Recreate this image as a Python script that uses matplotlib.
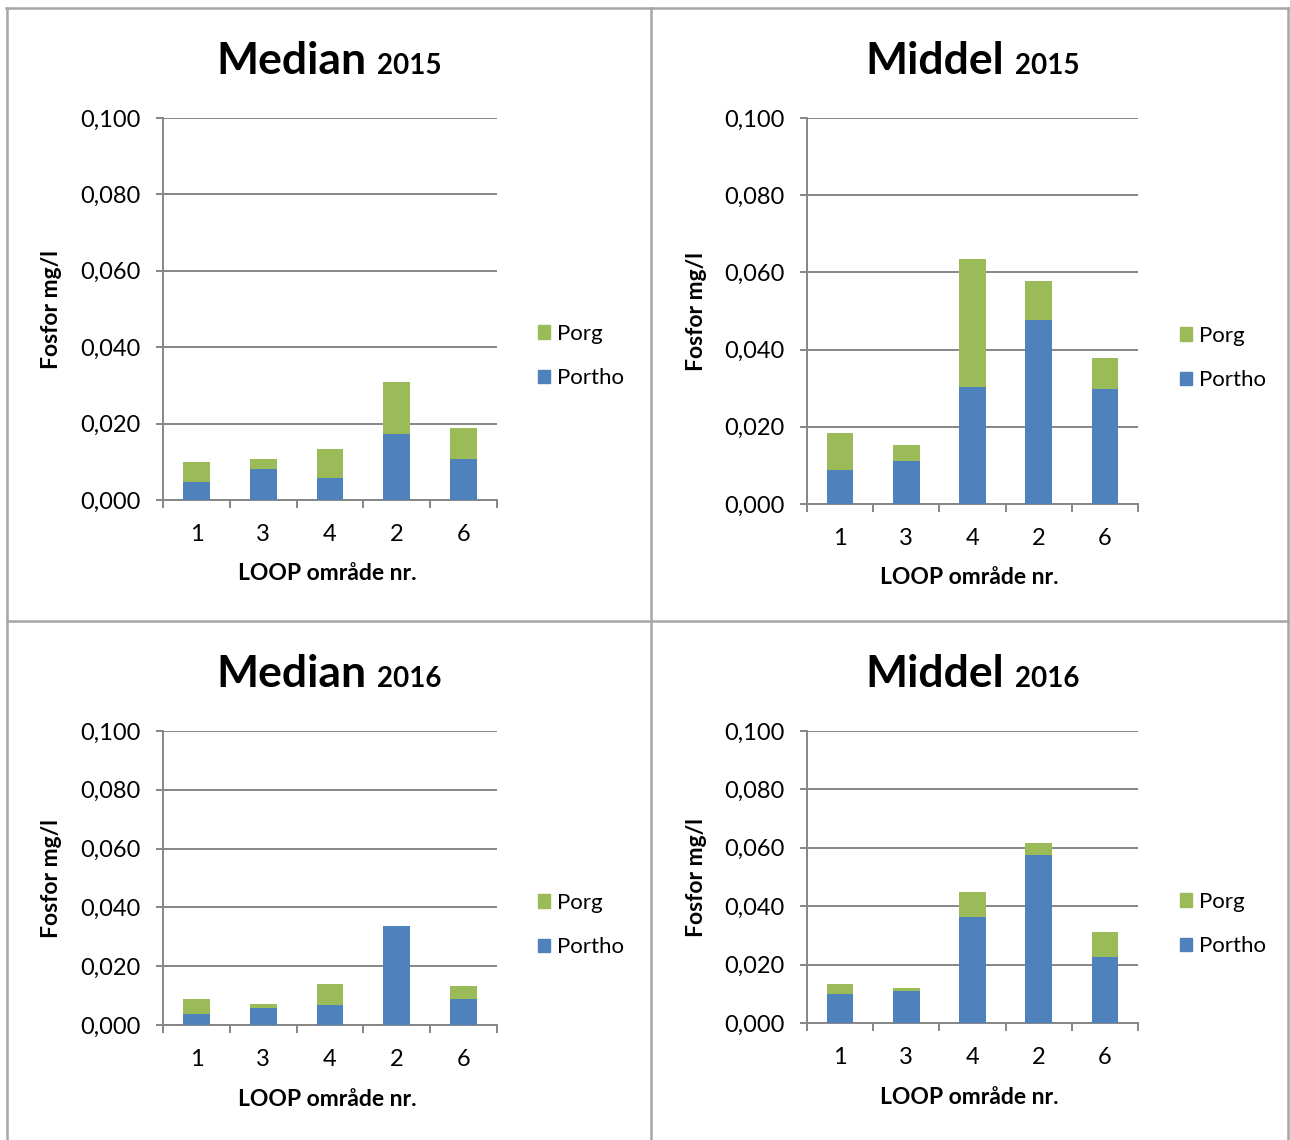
import numpy as np
import matplotlib
matplotlib.use('Agg')
import matplotlib.pyplot as plt
from matplotlib.patches import Patch
from matplotlib.ticker import FuncFormatter, FixedLocator

plt.rcParams['font.family'] = ['Lato', 'DejaVu Sans']

# data (mg/l), areas in the order shown on the x axis
areas = ['1', '3', '4', '2', '6']

median_2015_portho = [0.0048, 0.0081, 0.0058, 0.0174, 0.0108]
median_2015_porg = [0.0051, 0.0027, 0.0075, 0.0135, 0.0080]

middel_2015_portho = [0.0087, 0.0111, 0.0302, 0.0476, 0.0297]
middel_2015_porg = [0.0097, 0.0043, 0.0332, 0.0102, 0.0080]

median_2016_portho = [0.0039, 0.0057, 0.0069, 0.0336, 0.0088]
median_2016_porg = [0.0048, 0.0013, 0.0069, 0.0000, 0.0046]

middel_2016_portho = [0.0099, 0.0109, 0.0364, 0.0574, 0.0225]
middel_2016_porg = [0.0034, 0.0011, 0.0083, 0.0041, 0.0086]

BLUE = '#4F81BD'
GREEN = '#9BBB59'
GRID = '#868686'
FRAME = '#A6A6A6'

W, H = 1290, 1140
fig = plt.figure(figsize=(W / 100, H / 100), dpi=100)


def fx(x):
    return x / W


def fy(y):
    return 1 - y / H


# panel frame lines
for (x0, y0, x1, y1) in [(6, 8, 1290, 8), (7, 8, 7, 1140), (651, 8, 651, 1140),
                         (7, 621, 1290, 621), (1288, 8, 1288, 1140)]:
    fig.add_artist(plt.Line2D([fx(x0), fx(x1)], [fy(y0), fy(y1)],
                              color=FRAME, lw=1.8, transform=fig.transFigure))

# name, year, axes box px (left, top, right, bottom), title split x, legend anchor px, data
panels = [
    ('Median', '2015', (163, 118, 497, 500), 366, (538, 356), median_2015_portho, median_2015_porg),
    ('Middel', '2015', (807, 118, 1138, 504), 1004, (1180, 358), middel_2015_portho, middel_2015_porg),
    ('Median', '2016', (163, 731, 497, 1025), 366, (538, 925), median_2016_portho, median_2016_porg),
    ('Middel', '2016', (807, 731, 1138, 1023), 1004, (1180, 924), middel_2016_portho, middel_2016_porg),
]

for name, year, (l, t, r, b), tx, (lx, ly), portho, porg in panels:
    ax = fig.add_axes([fx(l), fy(b), fx(r) - fx(l), fy(t) - fy(b)])
    x = np.arange(len(areas))
    ax.bar(x, portho, width=0.4, color=BLUE, zorder=3)
    ax.bar(x, porg, width=0.4, bottom=portho, color=GREEN, zorder=3)

    ax.set_ylim(0, 0.1)
    ax.set_xlim(-0.5, len(areas) - 0.5)
    ax.set_yticks(np.arange(0, 0.1001, 0.02))
    ax.yaxis.set_major_formatter(FuncFormatter(lambda v, p: f'{v:.3f}'.replace('.', ',')))
    ax.grid(axis='y', color=GRID, lw=1.4, zorder=0)

    ax.xaxis.set_major_locator(FixedLocator(np.arange(-0.5, len(areas), 1.0)))
    ax.xaxis.set_minor_locator(FixedLocator(x))
    ax.set_xticklabels([], minor=False)
    ax.set_xticklabels(areas, minor=True)
    ax.tick_params(axis='x', which='major', length=6, width=1.4, color=GRID, direction='out')
    ax.tick_params(axis='x', which='minor', length=0, pad=17, labelsize=17)
    ax.tick_params(axis='y', length=5, width=1.4, color=GRID, pad=11, labelsize=17)

    for s in ['top', 'right']:
        ax.spines[s].set_visible(False)
    for s in ['left', 'bottom']:
        ax.spines[s].set_color(GRID)
        ax.spines[s].set_linewidth(1.4)

    handles = [Patch(color=GREEN, label='Porg'), Patch(color=BLUE, label='Portho')]
    ax.legend(handles=handles, loc='center left', frameon=False, fontsize=16,
              bbox_to_anchor=(fx(lx), fy(ly)), bbox_transform=fig.transFigure,
              handlelength=0.55, handleheight=0.55, handletextpad=0.3,
              labelspacing=1.1, borderpad=0, borderaxespad=0)

    cx = (l + r) / 2
    fig.text(fx(tx), fy(t - 44), name, ha='right', va='baseline',
             fontsize=32, fontweight='bold')
    fig.text(fx(tx + 11), fy(t - 44), year, ha='left', va='baseline',
             fontsize=20, fontweight='bold')
    fig.text(fx(l - 111), fy((t + b) / 2 + 1), 'Fosfor mg/l', rotation=90,
             ha='center', va='center', fontsize=16.5, fontweight='bold')
    fig.text(fx(cx - 3), fy(b + 74), 'LOOP område nr.', ha='center', va='center',
             fontsize=16.5, fontweight='bold')

fig.savefig('out.png', dpi=100, facecolor='white')
